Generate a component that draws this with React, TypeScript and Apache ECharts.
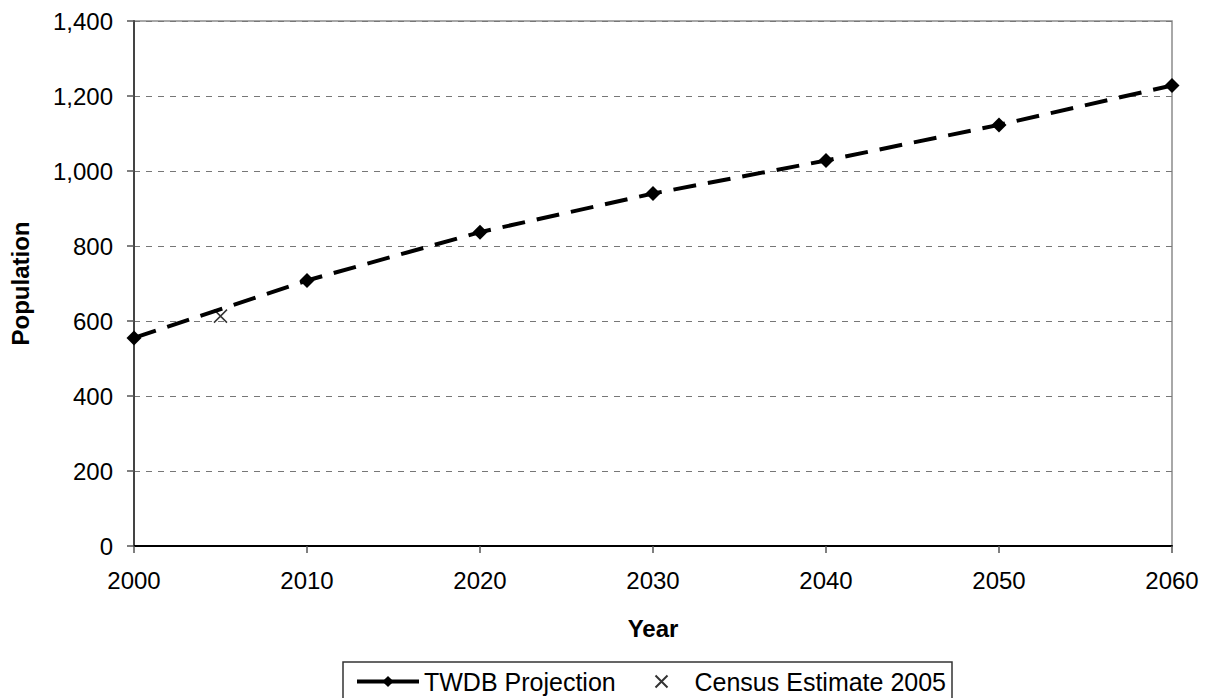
import React, { useEffect, useRef } from "react";
import * as echarts from "echarts";

const years = [2000, 2010, 2020, 2030, 2040, 2050, 2060];
const projection = [555, 708, 837, 940, 1028, 1123, 1228];
const censusYear = [2005];
const censusValue = [613];
const projectionName = "TWDB Projection";
const censusName = "Census Estimate 2005";
const xAxisTitle = "Year";
const yAxisTitle = "Population";

const FONT = "'Liberation Sans', Arial, sans-serif";
const CROSS = "path://M0,0L10,10M10,0L0,10";

export default function App() {
  const ref = useRef<HTMLDivElement>(null);
  useEffect(() => {
    if (!ref.current) return;
    const chart = echarts.init(ref.current, undefined, { renderer: "svg" });
    chart.setOption({
      animation: false,
      backgroundColor: "#fff",
      textStyle: { fontFamily: FONT },
      grid: {
        left: 129,
        right: 34,
        top: 21,
        bottom: 152,
        show: true,
        borderColor: "#8c8c8c",
        borderWidth: 1.5,
      },
      xAxis: {
        type: "value",
        min: 2000,
        max: 2060,
        interval: 10,
        name: xAxisTitle,
        nameLocation: "middle",
        nameGap: 70,
        nameTextStyle: { fontFamily: FONT, fontSize: 24, fontWeight: "bold", color: "#000" },
        axisLine: { lineStyle: { color: "#000", width: 2 } },
        axisTick: { show: true, length: 7, lineStyle: { color: "#555", width: 1.5 } },
        axisLabel: {
          fontFamily: FONT,
          fontSize: 24,
          color: "#000",
          margin: 22,
          formatter: (v: number) => String(v),
        },
        splitLine: { show: false },
      },
      yAxis: {
        type: "value",
        min: 0,
        max: 1400,
        interval: 200,
        name: yAxisTitle,
        nameLocation: "middle",
        nameGap: 102,
        nameTextStyle: { fontFamily: FONT, fontSize: 24, fontWeight: "bold", color: "#000" },
        axisLine: { show: true, lineStyle: { color: "#444", width: 2 } },
        axisTick: { show: true, length: 7, lineStyle: { color: "#555", width: 1.5 } },
        axisLabel: {
          fontFamily: FONT,
          fontSize: 24,
          color: "#000",
          margin: 21,
          formatter: (v: number) => v.toLocaleString("en-US"),
        },
        splitLine: { show: true, lineStyle: { color: "#777", type: [6, 6], width: 1 } },
      },
      legend: [
        {
          left: 350,
          top: 664,
          itemWidth: 62,
          itemHeight: 14,
          textStyle: { fontFamily: FONT, fontSize: 25, color: "#000" },
          data: [
            {
              name: projectionName,
              lineStyle: { type: "solid", width: 4, color: "#000" },
            },
          ],
        },
        {
          left: 648,
          top: 664,
          itemWidth: 14,
          itemHeight: 12,
          textStyle: { fontFamily: FONT, fontSize: 25, color: "#000", padding: [0, 0, 0, 21] },
          data: [{ name: censusName, icon: CROSS }],
        },
      ],
      graphic: [
        {
          type: "rect",
          shape: { x: 343, y: 662, width: 609, height: 60 },
          style: { fill: "none", stroke: "#333", lineWidth: 1.5 },
          silent: true,
        },
      ],
      series: [
        {
          name: projectionName,
          type: "line",
          data: years.map((y, i) => [y, projection[i]]),
          symbol: "diamond",
          symbolSize: 15,
          showAllSymbol: true,
          clip: false,
          lineStyle: { color: "#000", width: 4, type: [23, 12] },
          itemStyle: { color: "#000" },
          z: 3,
        },
        {
          name: censusName,
          type: "scatter",
          data: censusYear.map((y, i) => [y, censusValue[i]]),
          symbol: CROSS,
          symbolSize: 13,
          itemStyle: { color: "none", borderColor: "#000", borderWidth: 1.5 },
          z: 4,
        },
      ],
    });
    return () => chart.dispose();
  }, []);
  return (
    <div
      ref={ref}
      style={{ position: "fixed", left: 0, top: 0, width: 1206, height: 698 }}
    />
  );
}
